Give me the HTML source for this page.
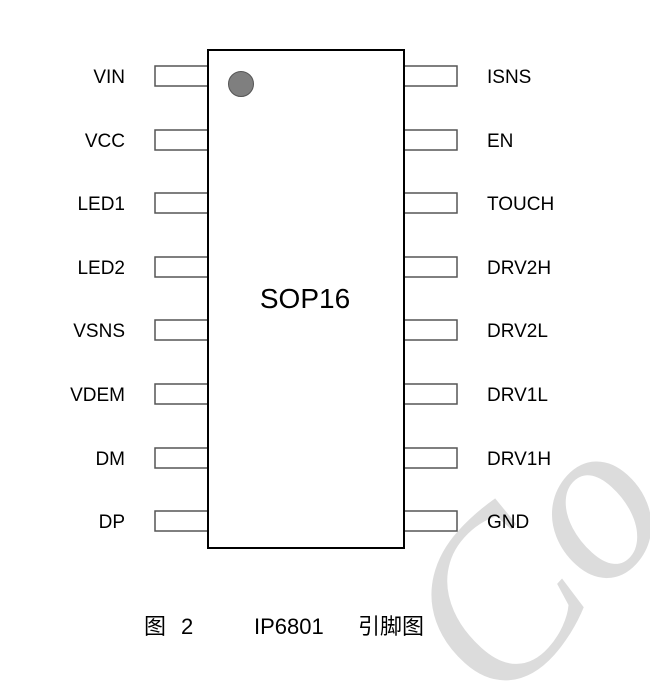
<!DOCTYPE html>
<html><head><meta charset="utf-8"><style>
html,body{margin:0;padding:0;background:#fff;width:650px;height:683px;overflow:hidden;}
svg{display:block;}
</style></head><body>
<svg width="650" height="683" viewBox="0 0 650 683" xmlns="http://www.w3.org/2000/svg">
<g fill="#dcdcdc" font-family="Liberation Serif, serif" font-style="italic">
<text x="0" y="0" font-size="230" transform="translate(500,712) rotate(-48)">Co</text>
</g>
<g font-family="Liberation Sans, sans-serif" font-size="19" fill="#000">
<g stroke="#555" stroke-width="1.5" fill="#fff">
<rect x="155" y="66" width="53" height="20"/><rect x="155" y="130" width="53" height="20"/>
<rect x="155" y="193" width="53" height="20"/><rect x="155" y="257" width="53" height="20"/>
<rect x="155" y="320" width="53" height="20"/><rect x="155" y="384" width="53" height="20"/>
<rect x="155" y="448" width="53" height="20"/><rect x="155" y="511" width="53" height="20"/>
<rect x="404" y="66" width="53" height="20"/><rect x="404" y="130" width="53" height="20"/>
<rect x="404" y="193" width="53" height="20"/><rect x="404" y="257" width="53" height="20"/>
<rect x="404" y="320" width="53" height="20"/><rect x="404" y="384" width="53" height="20"/>
<rect x="404" y="448" width="53" height="20" fill="none"/><rect x="404" y="511" width="53" height="20" fill="none"/>
</g>
<rect x="208" y="50" width="196" height="498" fill="#fff" stroke="#000" stroke-width="2"/>
<circle cx="241" cy="84" r="12.5" fill="#7f7f7f" stroke="#555" stroke-width="1"/>
<g text-anchor="end">
<text x="125" y="83">VIN</text><text x="125" y="147">VCC</text>
<text x="125" y="210">LED1</text><text x="125" y="274">LED2</text>
<text x="125" y="337">VSNS</text><text x="125" y="401">VDEM</text>
<text x="125" y="465">DM</text><text x="125" y="528">DP</text>
</g>
<g>
<text x="487" y="83">ISNS</text><text x="487" y="147">EN</text>
<text x="487" y="210">TOUCH</text><text x="487" y="274">DRV2H</text>
<text x="487" y="337">DRV2L</text><text x="487" y="401">DRV1L</text>
<text x="487" y="465">DRV1H</text><text x="487" y="528">GND</text>
</g>
<text x="305" y="308" font-size="28" text-anchor="middle">SOP16</text>
</g>
<g font-family="Liberation Sans, 'Noto Sans CJK SC', sans-serif" font-size="22" fill="#000">
<text x="144" y="634">图</text>
<text x="181" y="634">2</text>
<text x="254" y="634">IP6801</text>
<text x="358" y="634" font-family="'Noto Sans CJK SC', sans-serif">引脚图</text>
</g>
</svg>
</body></html>
